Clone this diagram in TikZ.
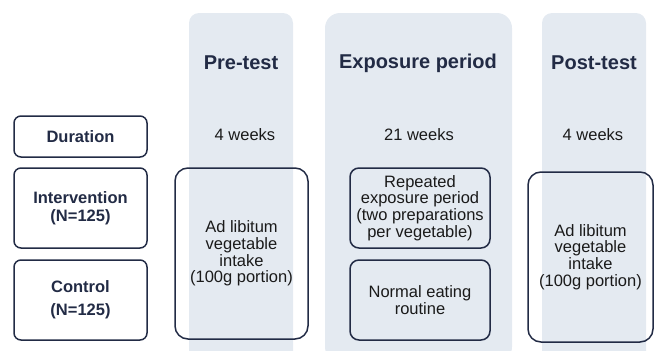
\documentclass[tikz,border=0pt]{standalone}
\usepackage{fontspec}
\setmainfont{Liberation Sans}
\usepackage{tikz}

\definecolor{colshade}{HTML}{E4EAF1}
\definecolor{navy}{HTML}{222B45}
\definecolor{bodytext}{HTML}{1A1A1A}

\tikzset{
    rowlabel/.style={draw=navy, line width=1.5pt, rounded corners=7pt, minimum width=133pt, align=center, text=navy, font=\fontsize{16.5}{18}\selectfont\bfseries},
    armbox/.style={draw=navy, line width=1.5pt, rounded corners=9pt, align=center, text=bodytext, font=\fontsize{16.5}{16.7}\selectfont},
    phasetitle/.style={text=navy, font=\fontsize{20}{24}\selectfont\bfseries},
    weeks/.style={text=bodytext, font=\fontsize{16.5}{18}\selectfont}
}

\begin{document}
\begin{tikzpicture}[x=1pt, y=-1pt]

    \useasboundingbox (0,0) rectangle (654,351);

    % Columns
    \fill[colshade, rounded corners=10pt] (189,13) rectangle (293,362);
    \fill[colshade, rounded corners=15pt] (325,13) rectangle (512,362);
    \fill[colshade, rounded corners=10pt] (542,13) rectangle (646,362);

    % Phase titles
    \node[phasetitle] (pretitle) at (241,63) {Pre-test};
    \node[phasetitle] (exptitle) at (418,63) {Exposure period};
    \node[phasetitle] (posttitle) at (594,63) {Post-test};

    % Row labels
    \node[rowlabel, minimum height=41pt] (durlbl) at (80.5,136.5) {Duration};
    \node[rowlabel, minimum height=80pt] (intlbl) at (80.5,208) {Intervention\\(N=125)};
    \node[rowlabel, minimum height=80pt, font=\fontsize{16.5}{23}\selectfont\bfseries] (ctllbl) at (80.5,300) {Control\\(N=125)};

    % Durations
    \node[weeks] (predur) at (245,135) {4 weeks};
    \node[weeks] (expdur) at (419,135) {21 weeks};
    \node[weeks] (postdur) at (593,135) {4 weeks};

    % Arms
    \node[armbox, rounded corners=13pt, minimum width=133pt, minimum height=171pt] (prebox) at (241.5,253.5) {Ad libitum\\vegetable\\intake\\(100g portion)};
    \node[armbox, minimum width=140pt, minimum height=80pt] (repbox) at (420,208) {Repeated\\exposure period\\(two preparations\\per vegetable)};
    \node[armbox, minimum width=140pt, minimum height=80pt] (normbox) at (420,300) {Normal eating\\routine};
    \node[armbox, rounded corners=13pt, minimum width=125pt, minimum height=170pt] (postbox) at (590.5,257) {Ad libitum\\vegetable\\intake\\(100g portion)};

\end{tikzpicture}
\end{document}
